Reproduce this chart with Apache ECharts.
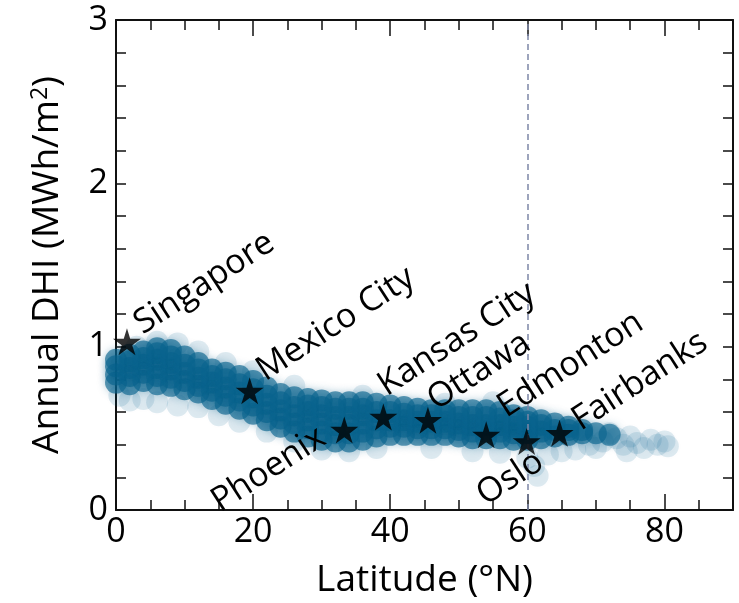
<!DOCTYPE html>
<html>
<head>
<meta charset="utf-8">
<script src="https://cdn.jsdelivr.net/npm/echarts@6/dist/echarts.min.js"></script>
<style>
  html, body { margin: 0; padding: 0; background: #fff; }
  #chart { width: 739px; height: 603px; }
</style>
</head>
<body>
<div id="chart"></div>
<script>
// city markers (stars)
var cityNames = ['Singapore', 'Mexico City', 'Phoenix', 'Kansas City', 'Ottawa', 'Edmonton', 'Oslo', 'Fairbanks'];
var cityLat = [1.6, 19.5, 33.3, 39.0, 45.5, 54.0, 59.9, 64.7];
var cityDhi = [1.03, 0.73, 0.49, 0.57, 0.55, 0.46, 0.42, 0.47];

// dense cloud of locations: latitude columns and the DHI values read in each column
var bandLat = [0, 2, 4, 6, 8, 10, 12, 14, 16, 18, 20, 22, 24, 26, 28, 30, 32, 34, 36,
               38, 40, 42, 44, 46, 48, 50, 52, 54, 56, 58, 60, 62, 64, 66, 68, 70, 72];
var bandDhi = [
  [0.78, 0.83, 0.88, 0.92],
  [0.77, 0.82, 0.87, 0.91, 0.95],
  [0.79, 0.84, 0.89, 0.93, 0.97],
  [0.77, 0.82, 0.87, 0.92, 0.96, 0.99],
  [0.76, 0.81, 0.86, 0.90, 0.94, 0.98],
  [0.74, 0.79, 0.84, 0.89, 0.94],
  [0.72, 0.76, 0.81, 0.86, 0.90],
  [0.68, 0.73, 0.78, 0.82, 0.86],
  [0.65, 0.70, 0.75, 0.80, 0.84],
  [0.62, 0.67, 0.72, 0.77, 0.82],
  [0.59, 0.64, 0.69, 0.74, 0.79],
  [0.55, 0.60, 0.65, 0.70, 0.75],
  [0.51, 0.56, 0.61, 0.66, 0.71],
  [0.48, 0.53, 0.58, 0.63, 0.69],
  [0.45, 0.50, 0.55, 0.60, 0.64, 0.68],
  [0.43, 0.48, 0.53, 0.58, 0.63, 0.67],
  [0.42, 0.47, 0.52, 0.57, 0.62, 0.66],
  [0.42, 0.47, 0.52, 0.57, 0.62, 0.66],
  [0.43, 0.48, 0.53, 0.58, 0.62, 0.66],
  [0.45, 0.50, 0.55, 0.60, 0.65],
  [0.46, 0.51, 0.55, 0.60, 0.64],
  [0.46, 0.51, 0.55, 0.59, 0.63],
  [0.46, 0.50, 0.54, 0.58, 0.62],
  [0.46, 0.50, 0.54, 0.58, 0.61],
  [0.46, 0.50, 0.54, 0.58, 0.61],
  [0.45, 0.49, 0.53, 0.57, 0.61],
  [0.44, 0.48, 0.52, 0.57, 0.61],
  [0.44, 0.48, 0.52, 0.57, 0.61],
  [0.44, 0.48, 0.52, 0.56, 0.60],
  [0.43, 0.47, 0.51, 0.55, 0.58],
  [0.43, 0.47, 0.51, 0.54, 0.57],
  [0.44, 0.48, 0.52, 0.55],
  [0.45, 0.49, 0.53],
  [0.46, 0.49, 0.51],
  [0.47, 0.49],
  [0.47],
  [0.46]
];

// sparse faint locations at the edges of the cloud
var fringePts = [
  [0.5, 0.70], [2, 0.67], [4, 0.68], [6, 0.66], [9, 0.64], [12, 0.63], [3, 1.00], [6, 1.03],
  [9, 1.02], [12, 0.97], [16, 0.90], [20, 0.85], [26, 0.76], [15, 0.58], [18, 0.54], [22, 0.48],
  [26, 0.42], [30, 0.37], [34, 0.36], [38, 0.38], [36, 0.70], [46, 0.38], [48, 0.65], [52, 0.36],
  [55, 0.66], [56, 0.35], [60, 0.32], [61, 0.27], [61.5, 0.21], [63, 0.34], [65, 0.36], [67, 0.37],
  [69, 0.40], [70, 0.38], [71, 0.42], [72, 0.47], [73, 0.44], [74, 0.40], [74.5, 0.36], [75, 0.45],
  [76, 0.41], [77, 0.38], [78, 0.43], [79, 0.40], [80, 0.42], [80.5, 0.39]
];

// axis ticks
var xMajor = [0, 20, 40, 60, 80];
var yMajor = [0, 1, 2, 3];
var cutoffLat = 60;

var FONT = '"Open Sans", "Noto Sans", sans-serif';
var INK = '#000000';

var cloudData = [];
bandLat.forEach(function (lat, i) {
  bandDhi[i].forEach(function (v) { cloudData.push([lat, v]); });
});

// label placement: [offset along text, offset across text, align]
var labelPlace = [
  [17, -7, 'left'], [18, -9, 'left'], [-21, -8, 'right'], [14, -25, 'left'],
  [12, -13, 'left'], [26, -13, 'left'], [2, 22, 'right'], [19, 0, 'left']
];

var starData = cityNames.map(function (name, i) {
  return {
    name: name,
    value: [cityLat[i], cityDhi[i]],
    label: {
      show: true,
      formatter: name,
      position: 'inside',
      rotate: 33,
      align: labelPlace[i][2],
      verticalAlign: 'middle',
      offset: [labelPlace[i][0], labelPlace[i][1]],
      fontSize: 34,
      fontFamily: FONT,
      color: INK,
      textBorderWidth: 0,
      textBorderColor: 'transparent',
      opacity: 1
    }
  };
});

var STAR = 'path://M50,0 L61,35 L98,35 L68,57 L79,91 L50,70 L21,91 L32,57 L2,35 L39,35 Z';

function minorAxis(pos, interval, max, extra) {
  var a = {
    type: 'value', position: pos, min: 0, max: max, interval: interval,
    axisLine: { show: true, onZero: false, lineStyle: { color: '#111', width: 2 } },
    axisTick: { show: true, inside: true, length: 10, lineStyle: { color: '#111', width: 1.5 } },
    axisLabel: { show: false },
    splitLine: { show: false }
  };
  return Object.assign(a, extra || {});
}

var myChart = echarts.init(document.getElementById('chart'), null, { renderer: 'canvas' });
var option = {
  animation: false,
  backgroundColor: '#ffffff',
  grid: { left: 116, right: 6, top: 20, bottom: 93, containLabel: false, outerBoundsMode: 'none' },
  xAxis: [
    minorAxis('bottom', 5, 90, {
      name: 'Latitude (°N)', nameLocation: 'middle', nameGap: 52,
      nameTextStyle: { fontSize: 37, color: INK, fontFamily: FONT }
    }),
    {
      type: 'value', position: 'bottom', min: 0, max: 90, interval: 20,
      axisLine: { show: false, onZero: false },
      axisTick: { show: true, inside: true, length: 16, lineStyle: { color: '#111', width: 1.5 } },
      axisLabel: {
        fontSize: 34, fontFamily: FONT, color: INK, margin: 5,
        formatter: function (v) { return xMajor.indexOf(v) >= 0 ? String(v) : ''; }
      },
      splitLine: { show: false }
    },
    minorAxis('top', 5, 90),
    {
      type: 'value', position: 'top', min: 0, max: 90, interval: 20,
      axisLine: { show: false, onZero: false },
      axisTick: { show: true, inside: true, length: 16, lineStyle: { color: '#111', width: 1.5 } },
      axisLabel: { show: false },
      splitLine: { show: false }
    }
  ],
  yAxis: [
    minorAxis('left', 0.2, 3, {
      name: 'Annual DHI (MWh/m{sup|2})', nameLocation: 'middle', nameGap: 50,
      nameTextStyle: {
        fontSize: 37, color: INK, fontFamily: FONT,
        rich: { sup: { fontSize: 23, color: INK, fontFamily: FONT, verticalAlign: 'top', padding: [0, 0, 14, 0] } }
      }
    }),
    {
      type: 'value', position: 'left', min: 0, max: 3, interval: 1,
      axisLine: { show: false, onZero: false },
      axisTick: { show: false },
      axisLabel: {
        fontSize: 34, fontFamily: FONT, color: INK, margin: 8,
        formatter: function (v) { return yMajor.indexOf(v) >= 0 ? String(v) : ''; }
      },
      splitLine: { show: false }
    },
    minorAxis('right', 0.2, 3)
  ],
  series: [
    {
      name: 'fringe', type: 'scatter', xAxisIndex: 0, yAxisIndex: 0,
      data: fringePts, symbol: 'circle', symbolSize: 22,
      itemStyle: { color: 'rgba(11,103,145,0.16)', shadowBlur: 5, shadowColor: 'rgba(11,103,145,0.15)' },
      silent: true, z: 1
    },
    {
      name: 'cloud', type: 'scatter', xAxisIndex: 0, yAxisIndex: 0,
      data: cloudData, symbol: 'circle', symbolSize: 22,
      itemStyle: { color: 'rgba(10,100,142,0.8)', shadowBlur: 8, shadowColor: 'rgba(10,100,142,0.4)' },
      silent: true, z: 2,
      markLine: {
        silent: true, symbol: 'none', label: { show: false },
        lineStyle: { type: [6, 4], color: '#7d87a6', width: 1.5 },
        data: [{ xAxis: cutoffLat }]
      }
    },
    {
      name: 'cities', type: 'scatter', xAxisIndex: 0, yAxisIndex: 0,
      data: starData, symbol: STAR, symbolSize: [28, 27],
      itemStyle: { color: '#000000' },
      z: 5
    }
  ]
};
myChart.setOption(option);
</script>
</body>
</html>
